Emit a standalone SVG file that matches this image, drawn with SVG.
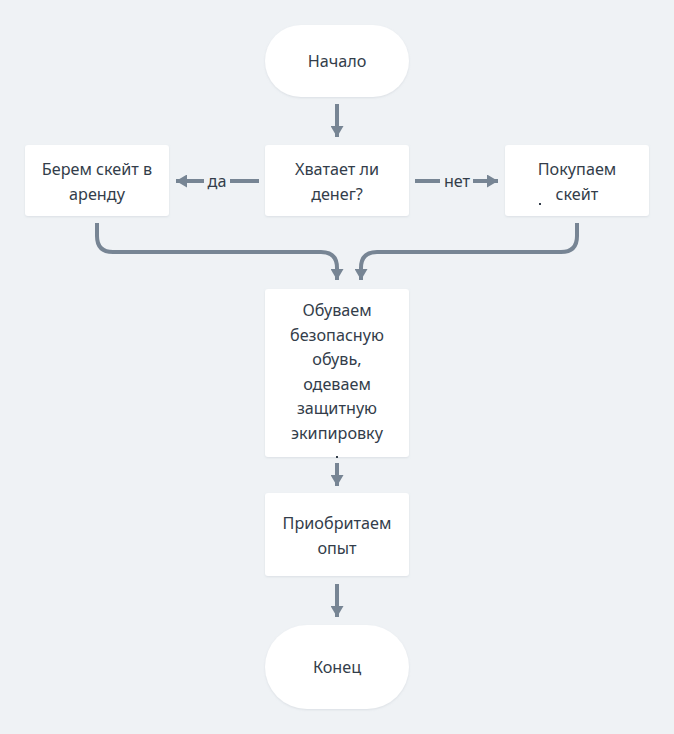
<svg xmlns="http://www.w3.org/2000/svg" width="674" height="734" viewBox="0 0 674 734">
<defs>
<marker id="ah" markerUnits="userSpaceOnUse" markerWidth="12" markerHeight="13" refX="11" refY="6.5" orient="auto">
<path d="M0,0 L11,6.5 L0,13 Z" fill="#778594"/>
</marker>
<filter id="sh" x="-10%" y="-10%" width="120%" height="130%">
<feDropShadow dx="0" dy="1" stdDeviation="1.2" flood-color="#9aa5b1" flood-opacity="0.25"/>
</filter>
</defs>
<style>
.n{fill:#ffffff;filter:url(#sh)}
.t{font-family:"Noto Sans",Roboto,"Liberation Sans",sans-serif;font-size:16.2px;fill:#333d4a;text-anchor:middle}
.l{font-family:"Noto Sans",Roboto,"Liberation Sans",sans-serif;font-size:16.2px;fill:#333d4a;text-anchor:middle}
.c{fill:none;stroke:#778594;stroke-width:4}
.a{marker-end:url(#ah)}
</style>
<rect width="674" height="734" fill="#eff2f5"/>
<g id="connectors">
<path class="c a" d="M337,104 V137"/>
<path class="c" d="M259,181 H230"/>
<path class="c a" d="M204,181 H176"/>
<text class="l" x="217" y="187">да</text>
<path class="c" d="M415,181 H440"/>
<path class="c a" d="M473,181 H498"/>
<text class="l" x="457" y="187">нет</text>
<path class="c a" d="M97,223 V236 Q97,252 113,252 H321 Q337,252 337,268 V280"/>
<path class="c a" d="M577,223 V236 Q577,252 561,252 H377 Q361,252 361,268 V280"/>
<path class="c a" d="M337,463 V486"/>
<path class="c a" d="M337,584 V617"/>
</g>
<g id="start">
<rect class="n" x="265" y="25" width="144" height="72" rx="36"/>
<text class="t" x="337" y="67">Начало</text>
</g>
<g id="decision">
<rect class="n" x="265" y="145" width="144" height="71" rx="3"/>
<text class="t" x="337" y="175">Хватает ли</text>
<text class="t" x="337" y="199.5">денег?</text>
</g>
<g id="rent">
<rect class="n" x="25" y="145" width="144" height="71" rx="3"/>
<text class="t" x="97" y="175">Берем скейт в</text>
<text class="t" x="97" y="199.5">аренду</text>
</g>
<g id="buy">
<rect class="n" x="505" y="145" width="144" height="71" rx="3"/>
<text class="t" x="577" y="175">Покупаем</text>
<text class="t" x="577" y="199.5">скейт</text>
<rect x="539" y="203" width="2" height="2" fill="#333d4a"/>
</g>
<g id="gear">
<rect class="n" x="265" y="289" width="144" height="168" rx="3"/>
<text class="t" x="337" y="316">Обуваем</text>
<text class="t" x="337" y="340.5">безопасную</text>
<text class="t" x="337" y="365">обувь,</text>
<text class="t" x="337" y="389.5">одеваем</text>
<text class="t" x="337" y="414">защитную</text>
<text class="t" x="337" y="438.5">экипировку</text>
<rect x="336" y="456" width="2" height="2" fill="#333d4a"/>
</g>
<g id="experience">
<rect class="n" x="265" y="493" width="144" height="83" rx="3"/>
<text class="t" x="337" y="529">Приобритаем</text>
<text class="t" x="337" y="553.5">опыт</text>
</g>
<g id="end">
<rect class="n" x="265" y="625" width="144" height="84" rx="42"/>
<text class="t" x="337" y="673">Конец</text>
</g>
</svg>
